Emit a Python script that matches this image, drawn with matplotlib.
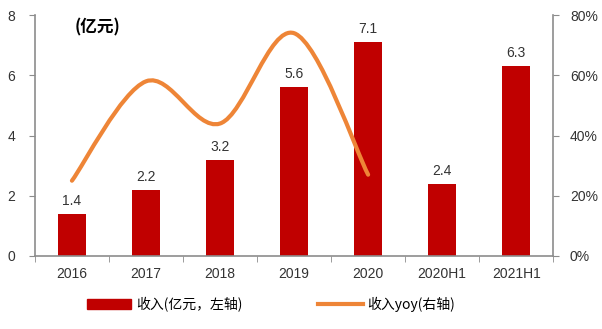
import matplotlib
matplotlib.use("Agg")
import matplotlib.pyplot as plt
import numpy as np
from matplotlib.path import Path
from matplotlib.patches import PathPatch, Patch
from matplotlib.lines import Line2D

plt.rcParams['font.family'] = ['Liberation Sans', 'Noto Sans CJK SC', 'DejaVu Sans']

categories = ["2016", "2017", "2018", "2019", "2020", "2020H1", "2021H1"]
revenue = [1.4, 2.2, 3.2, 5.6, 7.1, 2.4, 6.3]
yoy_years = ["2016", "2017", "2018", "2019", "2020"]
yoy = [25, 58, 44, 74, 27]

RED = "#C00000"
ORANGE = "#EE8537"
GRAY = "#8C8C8C"

fig = plt.figure(figsize=(6.02, 3.29), dpi=100)
ax = fig.add_axes([0.058, 0.222, 0.861, 0.732])
x = np.arange(len(categories))
ax.bar(x, revenue, width=0.38, color=RED, zorder=2)
for xi, v in zip(x, revenue):
    ax.text(xi, v + 0.2, f"{v:.1f}", ha="center", va="bottom", fontsize=10, color="#333333")

ax.set_xlim(-0.5, len(categories) - 0.5)
ax.set_ylim(0, 8)
ax.set_yticks([0, 2, 4, 6, 8])
ax.set_xticks(x)
ax.set_xticklabels(categories, fontsize=10, color="#333333")
ax.set_xticks(np.arange(-0.5, len(categories), 1), minor=True)
ax.tick_params(axis="x", which="major", length=0, pad=8)
ax.tick_params(axis="x", which="minor", length=4, color=GRAY, direction="out")
ax.tick_params(axis="y", labelsize=10, colors="#333333", length=4, color=GRAY, pad=10)
for s in ["top", "right"]:
    ax.spines[s].set_visible(False)
for s in ["left", "bottom"]:
    ax.spines[s].set_color(GRAY)
    ax.spines[s].set_linewidth(1.2)

ax2 = ax.twinx()
ax2.set_ylim(0, 80)
ax2.set_yticks([0, 20, 40, 60, 80])
ax2.set_yticklabels([f"{t}%" for t in [0, 20, 40, 60, 80]])
ax2.tick_params(axis="y", labelsize=10, colors="#333333", length=4, color=GRAY, pad=8)
for s in ["top", "left", "bottom"]:
    ax2.spines[s].set_visible(False)
ax2.spines["right"].set_color(GRAY)
ax2.spines["right"].set_linewidth(1.2)

# smoothed line (Catmull-Rom style bezier through the data points)
px = np.array([categories.index(c) for c in yoy_years], dtype=float)
py = np.array(yoy, dtype=float)
verts = [(px[0], py[0])]
codes = [Path.MOVETO]
n = len(px)
for i in range(n - 1):
    p0 = (px[i - 1], py[i - 1]) if i > 0 else (px[i], py[i])
    p1 = (px[i], py[i])
    p2 = (px[i + 1], py[i + 1])
    p3 = (px[i + 2], py[i + 2]) if i + 2 < n else p2
    c1 = (p1[0] + (p2[0] - p0[0]) / 6, p1[1] + (p2[1] - p0[1]) / 6)
    c2 = (p2[0] - (p3[0] - p1[0]) / 6, p2[1] - (p3[1] - p1[1]) / 6)
    verts += [c1, c2, p2]
    codes += [Path.CURVE4] * 3
ax2.add_patch(PathPatch(Path(verts, codes), facecolor="none", edgecolor=ORANGE,
                        lw=3, capstyle="round", zorder=3))

ax.text(0.077, 0.985, "(亿元)", transform=ax.transAxes, fontsize=12, fontweight="bold",
        ha="left", va="top", family=['Noto Sans CJK SC', 'DejaVu Sans'])

handles = [Patch(facecolor=RED, edgecolor=RED),
           Line2D([0], [0], color=ORANGE, lw=3)]
fig.legend(handles, ["收入(亿元，左轴)", "收入yoy(右轴)"], loc="center",
           bbox_to_anchor=(0.45, 0.075), ncol=2, frameon=False,
           handlelength=3.2, columnspacing=5.5, handletextpad=0.3,
           prop={'family': ['Noto Sans CJK SC', 'DejaVu Sans'], 'size': 10})

fig.savefig("out.png", dpi=100)
